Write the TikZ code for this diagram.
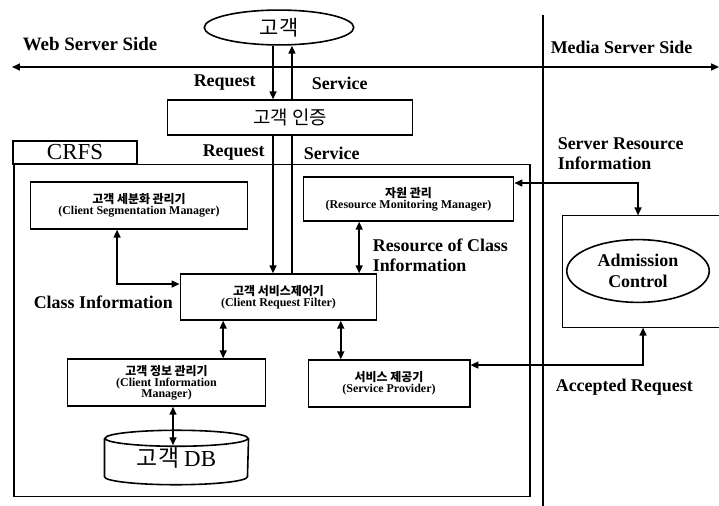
\documentclass[tikz,border=0pt]{standalone}
\usepackage{fontspec}
\setmainfont{Liberation Serif}
\newfontfamily\kr{Noto Sans CJK KR}
\usetikzlibrary{arrows.meta,positioning,shapes.geometric}

\begin{document}
\begin{tikzpicture}[x=1bp, y=-1bp, line width=1.6pt,
      >={Triangle[length=8pt,width=7pt]},
      box/.style = {draw, align=center, inner sep=0pt},
      lbl/.style = {font=\bfseries\fontsize{18}{20}\selectfont, align=left,
        inner sep=0pt, anchor=west}]
      \useasboundingbox (0,0) rectangle (719,506);

      \coordinate (wl) at (12,67);
      \coordinate (wr) at (719,67);
      \coordinate (mt) at (543,15);
      \coordinate (mb) at (543,506);
      \draw[<->] (wl) -- (wr);
      \draw[line width=2.2pt] (mt) -- (mb);
      \node[lbl] at (22,44) {\fontsize{19}{20}\selectfont Web Server Side};
      \node[lbl] at (550,47) {Media Server Side};

      \node[draw, ellipse, minimum width=150, minimum height=35, inner sep=0pt]
        (cust) at (279,27.5) {\kr\fontsize{21}{21}\selectfont 고객};
      \node[box, minimum width=246, minimum height=35] (auth) at (290,117.5)
        {\kr\fontsize{19}{19}\selectfont 고객 인증};

      \node[box, minimum width=518, minimum height=333] (crfs) at (272,330.5) {};
      \node[box, minimum width=124, minimum height=23] (tab) at (75,152.5)
        {\fontsize{23}{23}\selectfont CRFS};

      \node[box, minimum width=218, minimum height=47] (seg) at (139,205.5)
        {{\kr\bfseries\fontsize{12}{14}\selectfont 고객 세분화 관리기}\\[-1pt]
         {\bfseries\fontsize{12}{13}\selectfont (Client Segmentation Manager)}};
      \node[box, minimum width=211, minimum height=44] (rmm) at (408.5,199)
        {{\kr\bfseries\fontsize{12}{14}\selectfont 자원 관리}\\[-1pt]
         {\bfseries\fontsize{12}{13}\selectfont (Resource Monitoring Manager)}};
      \node[box, minimum width=197, minimum height=46] (crf) at (278.5,297)
        {{\kr\bfseries\fontsize{12}{14}\selectfont 고객 서비스제어기}\\[-1pt]
         {\bfseries\fontsize{12}{13}\selectfont (Client Request Filter)}};
      \node[box, minimum width=199, minimum height=47] (cim) at (166.5,382.5)
        {{\kr\bfseries\fontsize{12}{14}\selectfont 고객 정보 관리기}\\[-1pt]
         {\bfseries\fontsize{12}{13}\selectfont (Client Information}\\[-1pt]
         {\bfseries\fontsize{12}{13}\selectfont Manager)}};
      \node[box, minimum width=162, minimum height=47] (sp) at (389,383.5)
        {{\kr\bfseries\fontsize{12}{14}\selectfont 서비스 제공기}\\[-1pt]
         {\bfseries\fontsize{12}{13}\selectfont (Service Provider)}};
      \node[minimum width=143, minimum height=53, inner sep=0pt] (db) at (176.5,457.5)
        {\raisebox{-6pt}{\kr\fontsize{23}{23}\selectfont 고객 \rmfamily DB}};
      \draw ([yshift=-8]db.north) ellipse [x radius=71.5, y radius=8];
      \draw ([yshift=-8]db.north west) -- ([yshift=8]db.south west)
        arc [start angle=180, end angle=0, x radius=71.5, y radius=8]
        -- ([yshift=-8]db.north east);

      \node[minimum width=170, minimum height=111] (adm) at (648,271.5) {};
      \draw (adm.north -| wr) -- (adm.north west) -- (adm.south west) -- (adm.south -| wr);
      \node[draw, ellipse, minimum width=143, minimum height=63, inner sep=0pt,
        align=center, font=\bfseries\fontsize{18}{21}\selectfont] (ac) at (638,271)
        {Admission\\Control};

      \draw[->] ([xshift=-6]cust.south) -- ([xshift=-6]cust.south |- auth.north);
      \draw[<-] ([xshift=13]cust.south) -- ([xshift=13]cust.south |- auth.north);
      \draw[->] ([xshift=-5.5]crf.north |- auth.south) -- ([xshift=-5.5]crf.north);
      \draw ([xshift=13.5]crf.north |- auth.south) -- ([xshift=13.5]crf.north);
      \node[lbl] at (193,83) {Request};
      \node[lbl] at (311,83) {Service};
      \node[lbl] at (202,153) {Request};
      \node[lbl] at (303,153) {Service};

      \draw[<->] ([xshift=-22]seg.south) |- ([yshift=13]crf.west);
      \node[lbl] at (33,302) {Class Information};
      \draw[<->] ([xshift=-49.5]rmm.south) -- ([xshift=-49.5]rmm.south |- crf.north);
      \node[lbl] at (372,255) {Resource of Class\\Information};
      \draw[<->] ([xshift=-55.5]crf.south) -- ([xshift=-55.5]crf.south |- cim.north);
      \draw[<->] ([xshift=62.5]crf.south) -- ([xshift=62.5]crf.south |- sp.north);
      \draw[<->] ([xshift=-3.5,yshift=-15]db.north) -- ([xshift=-3.5]db.north |- cim.south);

      \draw[<->] ([yshift=16]rmm.east) -| ([xshift=-10]adm.north);
      \node[lbl] at (557,154) {Server Resource\\Information};
      \draw[<->] ([yshift=18.5]sp.east) -| ([xshift=-5]adm.south);
      \node[lbl] at (555,387) {Accepted Request};
    \end{tikzpicture}
\end{document}
